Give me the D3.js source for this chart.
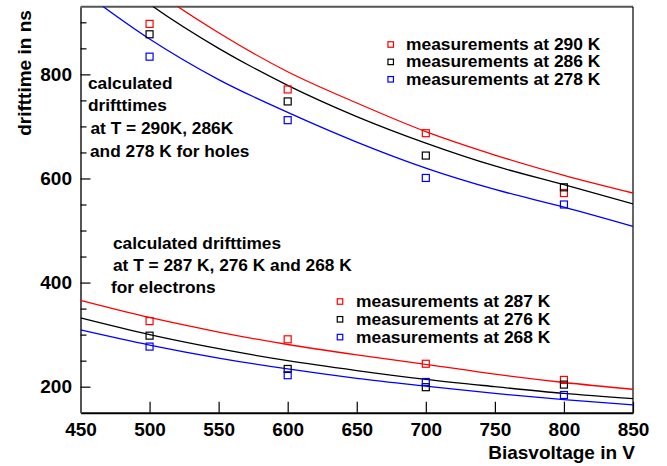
<!DOCTYPE html>
<html>
<head>
<meta charset="utf-8">
<script src="https://cdn.jsdelivr.net/npm/d3@7"></script>
<style>
  html, body { margin: 0; padding: 0; background: #fff; }
  svg { display: block; font-family: "Liberation Sans", Arial, sans-serif; font-weight: bold; }
</style>
</head>
<body>
<svg id="chart" width="667" height="466"></svg>
<script>
// ---- data ----
const measVoltages = [500, 600, 700, 800];
const holes290 = [897, 771, 687, 572];
const holes286 = [877, 748, 644, 583];
const holes278 = [834, 712, 601, 550];
const elec287 = [326, 291, 244, 213];
const elec276 = [298, 234, 199, 204];
const elec268 = [277, 222, 209, 184];

const calcVoltages = [450, 500, 550, 600, 650, 700, 750, 800, 850];
const calcHoles290 = [1075, 968, 880, 805, 745, 690, 645, 606, 572];
const calcHoles286 = [1040, 935, 850, 779, 719, 668, 624, 588, 551];
const calcHoles278 = [962, 868, 790, 727, 670, 620, 579, 545, 508];
const calcElec287 = [366, 333, 305, 281, 261, 243, 224, 208, 195];
const calcElec276 = [332, 300, 273, 250, 231, 214, 200, 187, 177];
const calcElec268 = [309, 280, 255, 234, 216, 201, 187, 175, 165];

const xMajorTicks = [450, 500, 550, 600, 650, 700, 750, 800, 850];
const yMajorTicks = [200, 400, 600, 800];
const yMinorTicks = [250, 300, 350, 450, 500, 550, 650, 700, 750, 850, 900];

const holeLegend = ["measurements at 290 K", "measurements at 286 K", "measurements at 278 K"];
const elecLegend = ["measurements at 287 K", "measurements at 276 K", "measurements at 268 K"];
const holeNote = ["calculated", "drifttimes", "at T = 290K, 286K", "and 278 K for holes"];
const elecNote = ["calculated drifttimes", "at T = 287 K, 276 K and 268 K", "for electrons"];

const colors = ["#ff0000", "#000000", "#0000ff"];

// ---- layout ----
const svg = d3.select("#chart");
const L = 80.5, R = 633, T = 6.7, B = 412.7;
const x = d3.scaleLinear().domain([450, 850]).range([L, R]);
const y = d3.scaleLinear().domain([150, 930]).range([B, T]);

svg.append("defs").append("clipPath").attr("id", "clip")
  .append("rect").attr("x", L).attr("y", T).attr("width", R - L).attr("height", B - T);

// frame
svg.append("line").attr("x1", L).attr("x2", R).attr("y1", T).attr("y2", T)
  .attr("stroke", "#555").attr("stroke-width", 2);
svg.append("line").attr("x1", R).attr("x2", R).attr("y1", T).attr("y2", B)
  .attr("stroke", "#000").attr("stroke-width", 1.2);

// axes
const xAxis = d3.axisBottom(x).tickValues(xMajorTicks).tickSizeInner(-11).tickSizeOuter(0).tickPadding(10).tickFormat(d3.format("d"));
const gx = svg.append("g").attr("transform", `translate(0,${B})`).call(xAxis);
gx.select(".domain").attr("stroke", "#000").attr("stroke-width", 2);
gx.selectAll(".tick line").attr("stroke", "#000").attr("stroke-width", 1.2);
gx.selectAll("text").attr("font-size", 19).attr("font-weight", "bold").attr("fill", "#000")
  .attr("font-family", "Liberation Sans, Arial, sans-serif");

const yAxis = d3.axisLeft(y).tickValues(yMajorTicks).tickSizeInner(-10).tickSizeOuter(0).tickPadding(8.5).tickFormat(d3.format("d"));
const gy = svg.append("g").attr("transform", `translate(${L},0)`).call(yAxis);
gy.select(".domain").attr("stroke", "#555").attr("stroke-width", 2);
gy.selectAll(".tick line").attr("stroke", "#000").attr("stroke-width", 1.2);
gy.selectAll("text").attr("font-size", 19).attr("font-weight", "bold").attr("fill", "#000")
  .attr("font-family", "Liberation Sans, Arial, sans-serif");

const yAxisMinor = d3.axisLeft(y).tickValues(yMinorTicks).tickSizeInner(-6).tickSizeOuter(0).tickFormat("");
const gym = svg.append("g").attr("transform", `translate(${L},0)`).call(yAxisMinor);
gym.select(".domain").remove();
gym.selectAll(".tick line").attr("stroke", "#000").attr("stroke-width", 1.2);

// axis titles
svg.append("text").attr("transform", `translate(31,${(8 + 138) / 2}) rotate(-90)`)
  .attr("text-anchor", "middle").attr("font-size", 19).text("drifttime in ns");
svg.append("text").attr("x", 635).attr("y", 459).attr("text-anchor", "end")
  .attr("font-size", 19).text("Biasvoltage in V");

// curves
const line = d3.line().x((d, i) => x(calcVoltages[i])).y(d => y(d)).curve(d3.curveMonotoneX);
const curves = [calcHoles290, calcHoles286, calcHoles278, calcElec287, calcElec276, calcElec268];
const curveColors = [colors[0], colors[1], colors[2], colors[0], colors[1], colors[2]];
const gc = svg.append("g").attr("clip-path", "url(#clip)");
curves.forEach((c, k) => {
  gc.append("path").datum(c).attr("d", line).attr("fill", "none")
    .attr("stroke", curveColors[k]).attr("stroke-width", 1.3);
});

// markers
const meas = [holes290, holes286, holes278, elec287, elec276, elec268];
const ms = 7;
meas.forEach((s, k) => {
  svg.append("g").selectAll("rect").data(s).join("rect")
    .attr("x", (d, i) => x(measVoltages[i]) - ms / 2)
    .attr("y", d => y(d) - ms / 2)
    .attr("width", ms).attr("height", ms)
    .attr("fill", "none").attr("stroke", curveColors[k]).attr("stroke-width", 1.2);
});

// legends
function legend(items, sx, sy0, tx, dy) {
  items.forEach((t, i) => {
    const ls = 5.5;
    svg.append("rect").attr("x", sx - ls / 2).attr("y", sy0 + i * dy - ls / 2)
      .attr("width", ls).attr("height", ls).attr("fill", "none")
      .attr("stroke", colors[i]).attr("stroke-width", 1.2);
    svg.append("text").attr("x", tx).attr("y", sy0 + i * dy + 5.5)
      .attr("font-size", 17.4).text(t);
  });
}
legend(holeLegend, 390.7, 44.5, 406, 17.4);
legend(elecLegend, 340, 301.5, 356, 17.8);

// notes
const holeNoteX = [88, 88, 90.5, 90];
holeNote.forEach((t, i) => {
  svg.append("text").attr("x", holeNoteX[i]).attr("y", 88.5 + i * 22.7).attr("font-size", 17.3).text(t);
});
const elecNoteX = [113, 113, 111];
elecNote.forEach((t, i) => {
  svg.append("text").attr("x", elecNoteX[i]).attr("y", 248.5 + i * 22.3).attr("font-size", 17.3).text(t);
});
</script>
</body>
</html>
